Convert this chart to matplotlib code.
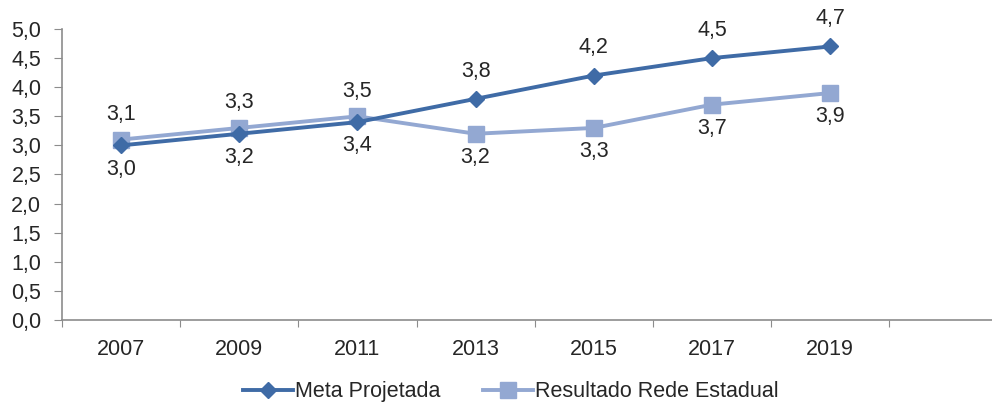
import numpy as np
import matplotlib.pyplot as plt

plt.rcParams['font.family'] = ['Liberation Sans', 'DejaVu Sans']

# data
years = ['2007', '2009', '2011', '2013', '2015', '2017', '2019']
meta = [3.0, 3.2, 3.4, 3.8, 4.2, 4.5, 4.7]
resultado = [3.1, 3.3, 3.5, 3.2, 3.3, 3.7, 3.9]
meta_above = [False, False, False, True, True, True, True]

dark = '#3F6BA6'
light = '#93A8D2'
txt = '#262626'
spine = '#8C8C8C'
fs = 15.5

fig = plt.figure(figsize=(9.92, 4.03), dpi=100)
ax = fig.add_axes([0.0625, 0.206, 0.9375, 0.722])

x = np.arange(len(years))
ax.plot(x, meta, color=dark, lw=2.8, marker='D', ms=8.5, label='Meta Projetada', zorder=3)
ax.plot(x, resultado, color=light, lw=2.8, marker='s', ms=11, label='Resultado Rede Estadual', zorder=2)

def fmt(v):
    return f'{v:.1f}'.replace('.', ',')

# point labels: the two series swap sides after 2011
for i in x:
    up = meta_above[i]
    ax.annotate(fmt(meta[i]), (i, meta[i]), xytext=(0, 20 if up else -17),
                textcoords='offset points', ha='center', va='center', fontsize=fs, color=txt)
    ax.annotate(fmt(resultado[i]), (i, resultado[i]), xytext=(0, -17 if up else 18),
                textcoords='offset points', ha='center', va='center', fontsize=fs, color=txt)

ax.set_ylim(0, 5)
ax.set_yticks(np.arange(0, 5.01, 0.5))
ax.set_yticklabels([fmt(v) for v in np.arange(0, 5.01, 0.5)])
ax.set_xlim(-0.5, 7.37)
ax.set_xticks(np.arange(-0.5, 7.0, 1.0))
ax.set_xticklabels([])
ax.set_xticks(x, minor=True)
ax.set_xticklabels(years, minor=True)
ax.tick_params(axis='x', which='minor', length=0, pad=14, labelsize=fs, labelcolor=txt)
ax.tick_params(axis='x', which='major', length=5, color=spine)
ax.tick_params(axis='y', length=6, color=spine, labelsize=fs, labelcolor=txt, pad=9)

for s in ['top', 'right']:
    ax.spines[s].set_visible(False)
for s in ['left', 'bottom']:
    ax.spines[s].set_color(spine)
    ax.spines[s].set_linewidth(1.2)

fig.legend(loc='center', bbox_to_anchor=(0.515, 0.028), ncol=2, frameon=False,
           fontsize=fs, handlelength=2.3, handletextpad=0.1, columnspacing=2.0,
           labelcolor=txt)

fig.savefig('out.png', dpi=100)
